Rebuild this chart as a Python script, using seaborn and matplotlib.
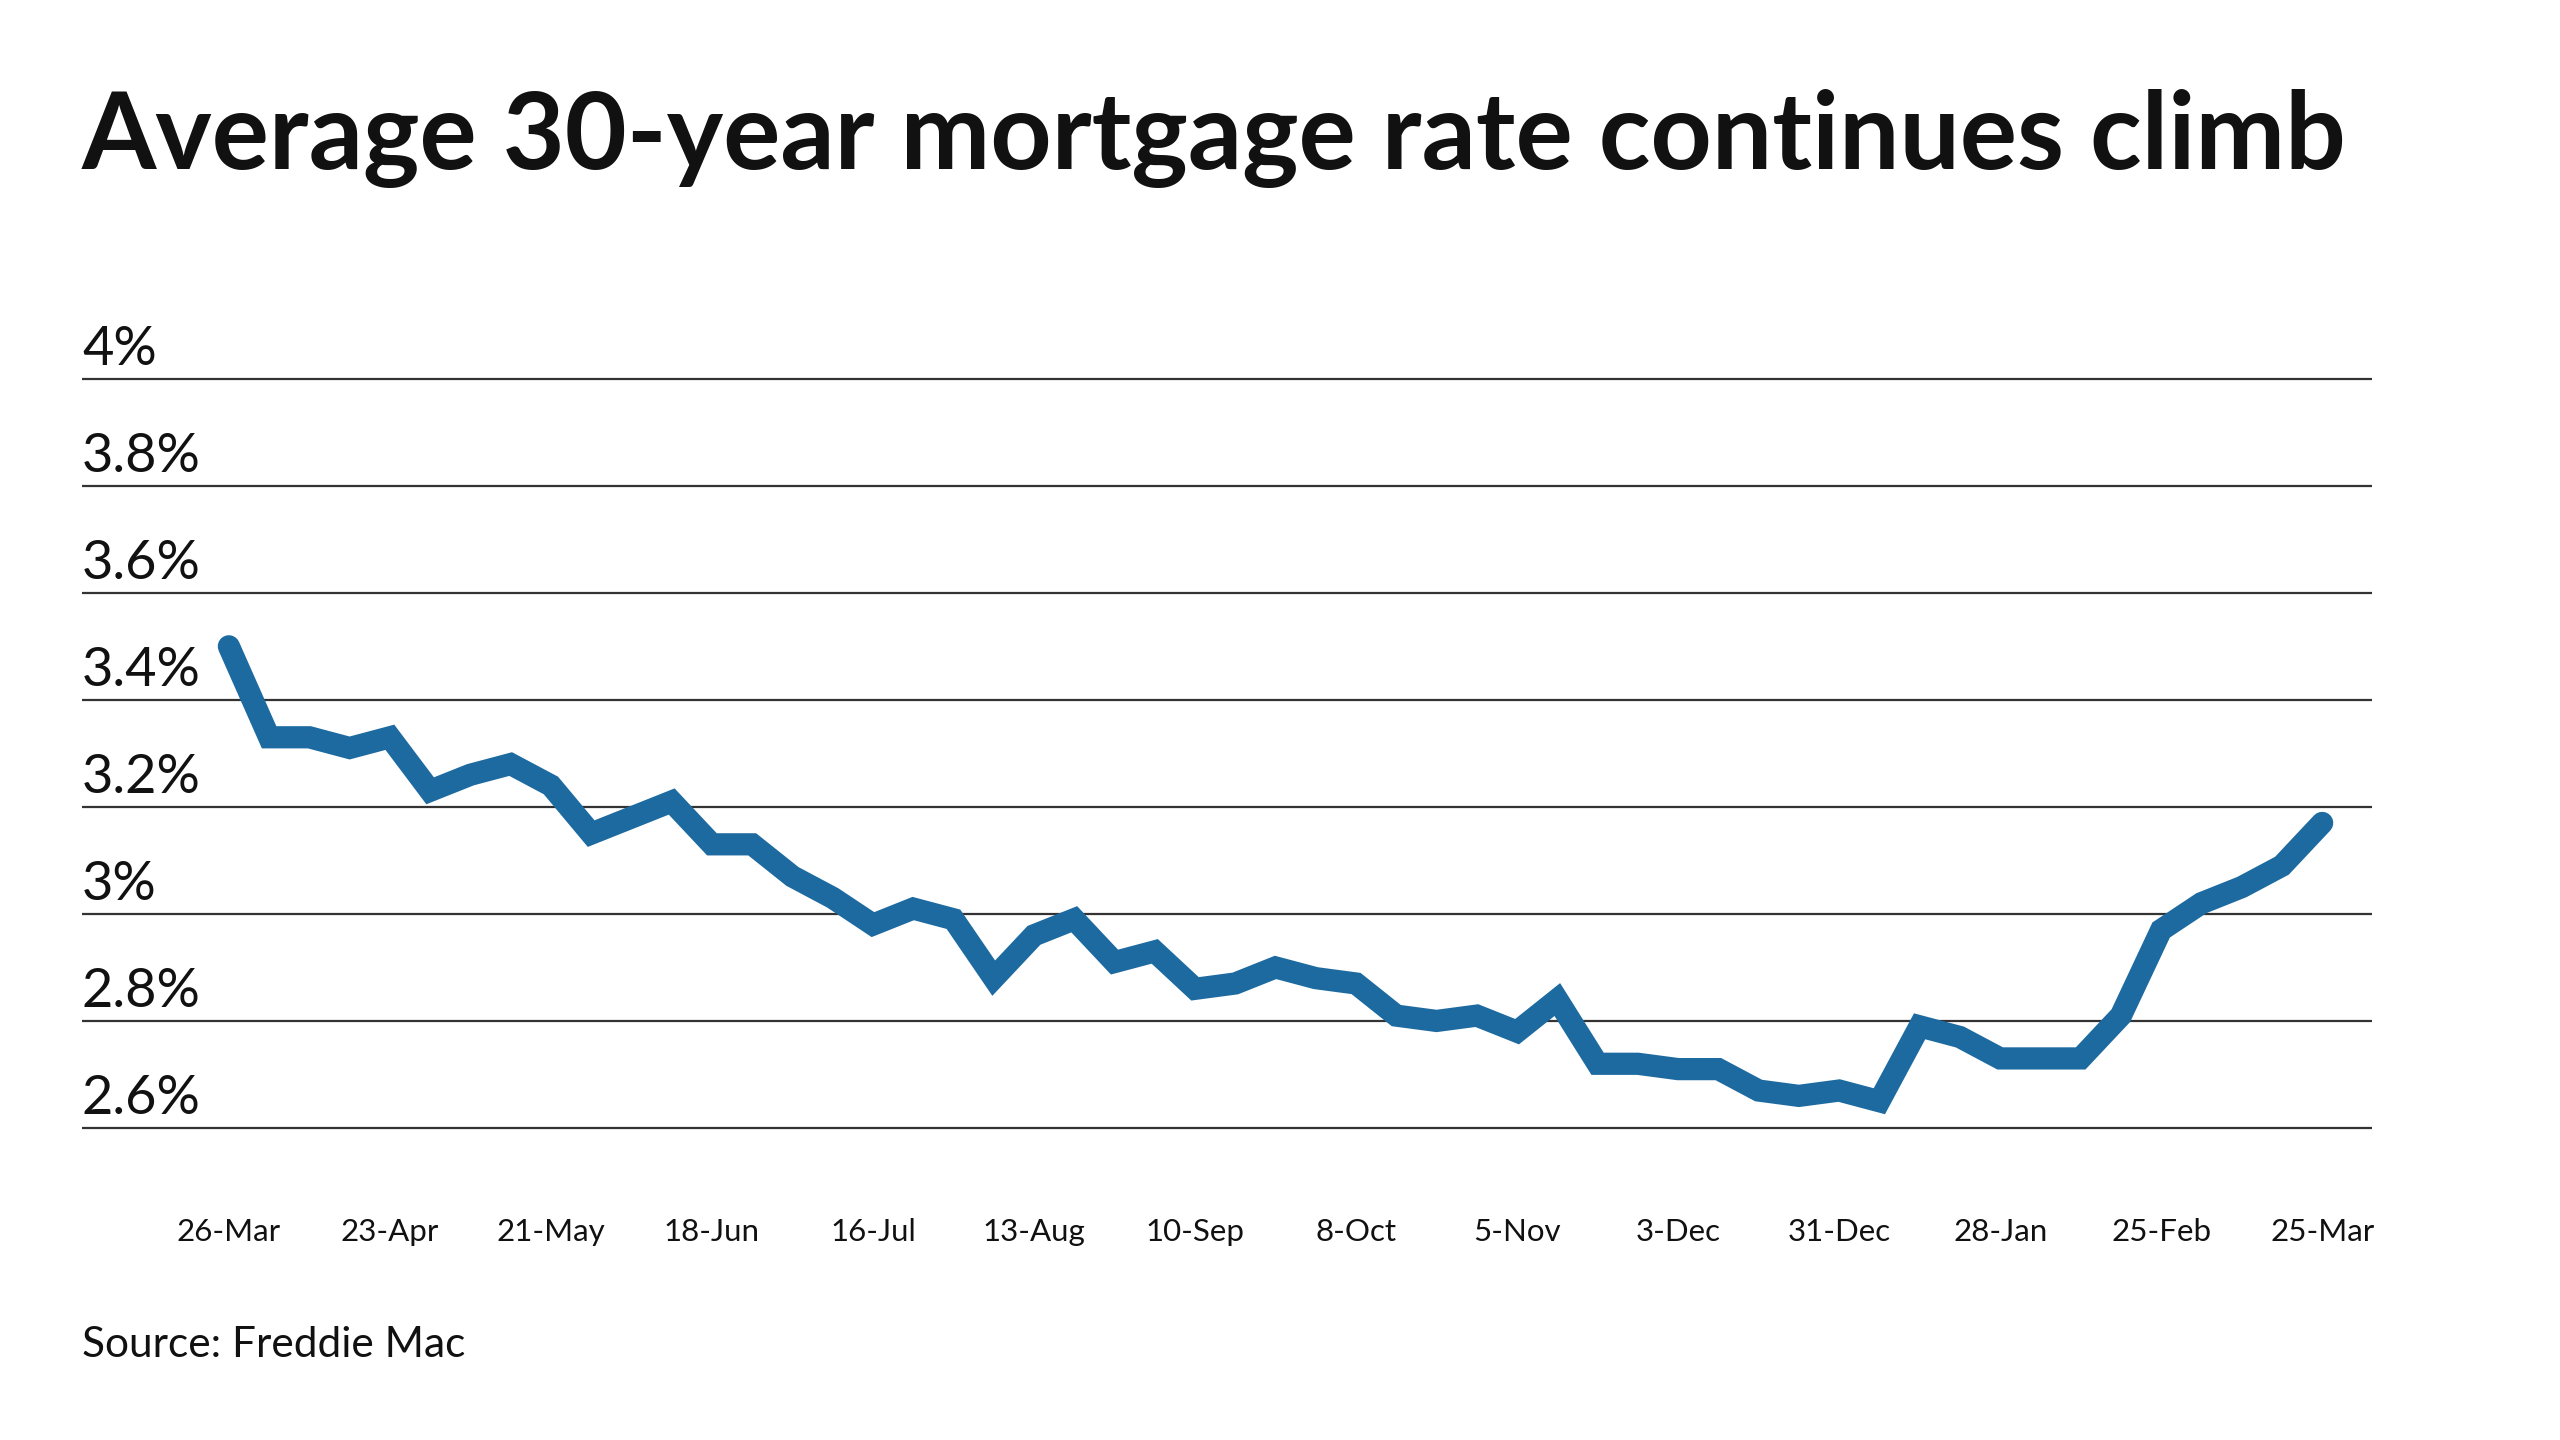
import numpy as np
import pandas as pd
import seaborn as sns
import matplotlib.pyplot as plt
import matplotlib.transforms as mtransforms

# weekly Freddie Mac 30-year fixed rate, 26-Mar-2020 .. 25-Mar-2021
weeks = [
    "26-Mar", "2-Apr", "9-Apr", "16-Apr", "23-Apr", "30-Apr", "7-May", "14-May",
    "21-May", "28-May", "4-Jun", "11-Jun", "18-Jun", "25-Jun", "2-Jul", "9-Jul",
    "16-Jul", "23-Jul", "30-Jul", "6-Aug", "13-Aug", "20-Aug", "27-Aug", "3-Sep",
    "10-Sep", "17-Sep", "24-Sep", "1-Oct", "8-Oct", "15-Oct", "22-Oct", "29-Oct",
    "5-Nov", "12-Nov", "19-Nov", "26-Nov", "3-Dec", "10-Dec", "17-Dec", "24-Dec",
    "31-Dec", "7-Jan", "14-Jan", "21-Jan", "28-Jan", "4-Feb", "11-Feb", "18-Feb",
    "25-Feb", "4-Mar", "11-Mar", "18-Mar", "25-Mar",
]
rates = [
    3.50, 3.33, 3.33, 3.31, 3.33, 3.23, 3.26, 3.28,
    3.24, 3.15, 3.18, 3.21, 3.13, 3.13, 3.07, 3.03,
    2.98, 3.01, 2.99, 2.88, 2.96, 2.99, 2.91, 2.93,
    2.86, 2.87, 2.90, 2.88, 2.87, 2.81, 2.80, 2.81,
    2.78, 2.84, 2.72, 2.72, 2.71, 2.71, 2.67, 2.66,
    2.67, 2.65, 2.79, 2.77, 2.73, 2.73, 2.73, 2.81,
    2.97, 3.02, 3.05, 3.09, 3.17,
]
y_ticks = [2.6, 2.8, 3.0, 3.2, 3.4, 3.6, 3.8, 4.0]
y_labels = ["2.6%", "2.8%", "3%", "3.2%", "3.4%", "3.6%", "3.8%", "4%"]

df = pd.DataFrame({"week": weeks, "rate": rates})
df["pos"] = np.arange(len(df))

sns.set_style("white")
plt.rcParams["font.family"] = ["Lato", "DejaVu Sans"]

fig = plt.figure(figsize=(25.6, 14.4), dpi=100)
ax = fig.add_axes([0.032, 0.1795, 0.8946, 0.5761])

sns.lineplot(data=df, x="pos", y="rate", ax=ax, color="#1c6aa0", linewidth=16,
             solid_capstyle="round", solid_joinstyle="miter", zorder=3)

ax.set_xlim(-3.65, 53.24)
ax.set_ylim(2.5, 4.05)
for y in y_ticks:
    ax.axhline(y, color="#333333", linewidth=1.6, zorder=1)

# y labels sit above their gridline on the left
trans = mtransforms.blended_transform_factory(ax.transAxes, ax.transData)
offset = mtransforms.offset_copy(trans, fig=fig, y=5, units="dots")
for y, lab in zip(y_ticks, y_labels):
    ax.text(0, y, lab, transform=offset, ha="left", va="bottom",
            fontsize=39, color="#111111")

ax.set_yticks([])
ax.set_xticks(df["pos"][::4])
ax.set_xticklabels(df["week"][::4], fontsize=22.5, color="#111111")
ax.tick_params(axis="x", length=0, pad=26)
ax.set_xlabel("")
ax.set_ylabel("")
sns.despine(ax=ax, left=True, bottom=True)

fig.text(0.032, 0.938, "Average 30-year mortgage rate continues climb",
         fontsize=77, fontweight="bold", ha="left", va="top", color="#111111")
fig.text(0.032, 0.066, "Source: Freddie Mac", fontsize=30.5, ha="left",
         va="center", color="#111111")

fig.savefig("out.png", dpi=100, facecolor="white")
